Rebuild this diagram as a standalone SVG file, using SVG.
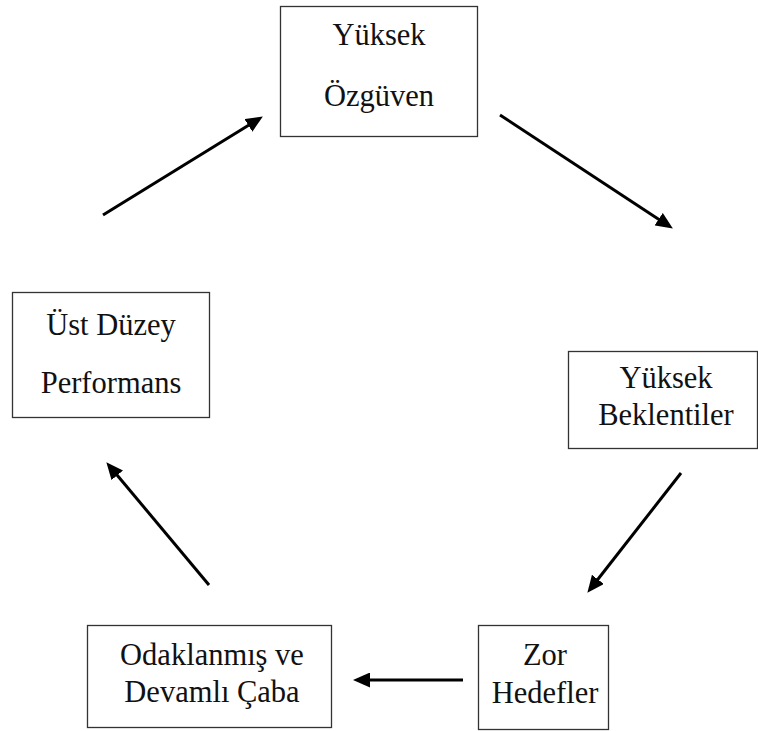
<svg xmlns="http://www.w3.org/2000/svg" width="758" height="731" viewBox="0 0 758 731">
<defs>
<marker id="ah" markerUnits="userSpaceOnUse" markerWidth="17" markerHeight="15" refX="4" refY="7.5" orient="auto" viewBox="0 0 17 15">
<path d="M0,0 L17,7.5 L0,15 z" fill="#000"/>
</marker>
<style>
.box{fill:#fff;stroke:#333;stroke-width:1.3}
.t{font-family:"Liberation Serif","Times New Roman",serif;font-size:30.5px;fill:#111;text-anchor:middle}
.c{stroke:#000;stroke-width:3;fill:none;marker-end:url(#ah)}
</style>
</defs>
<rect width="758" height="731" fill="#fff"/>
<g id="n-ozguven">
<rect class="box" x="280.5" y="6.5" width="197" height="130"/>
<text class="t" x="379" y="45">Yüksek</text>
<text class="t" x="379" y="106">Özgüven</text>
</g>
<g id="n-beklentiler">
<rect class="box" x="568.5" y="351.5" width="189" height="97"/>
<text class="t" x="666" y="388">Yüksek</text>
<text class="t" x="666" y="425">Beklentiler</text>
</g>
<g id="n-hedefler">
<rect class="box" x="478.5" y="625.5" width="130" height="104"/>
<text class="t" x="545" y="665">Zor</text>
<text class="t" x="545" y="703">Hedefler</text>
</g>
<g id="n-caba">
<rect class="box" x="87.5" y="625.5" width="244" height="102"/>
<text class="t" x="212" y="665">Odaklanmış ve</text>
<text class="t" x="212" y="702">Devamlı Çaba</text>
</g>
<g id="n-performans">
<rect class="box" x="12.5" y="292.5" width="197" height="125"/>
<text class="t" x="111" y="335">Üst Düzey</text>
<text class="t" x="111" y="393">Performans</text>
</g>
<g id="connectors">
<line class="c" x1="103" y1="215" x2="251.8" y2="123.3"/>
<line class="c" x1="500" y1="115" x2="662" y2="221.4"/>
<line class="c" x1="681" y1="473" x2="595.4" y2="582.5"/>
<line class="c" x1="209" y1="585" x2="114.7" y2="472.2"/>
<line class="c" x1="463" y1="680" x2="366" y2="680"/>
</g>
</svg>
